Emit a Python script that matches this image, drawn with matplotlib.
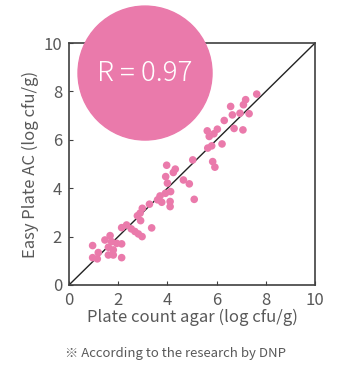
import matplotlib
matplotlib.use("Agg")
import matplotlib.pyplot as plt
from matplotlib.patches import Ellipse

plt.rcParams['font.family'] = ['Noto Sans CJK JP', 'DejaVu Sans']

# plate count agar (x) vs Easy Plate AC (y), log cfu/g
plate_count = [7.63, 7.18, 7.09, 6.57, 6.95, 7.32, 6.64, 6.31, 6.71, 7.07,
               5.62, 6.03, 5.89, 5.70, 6.22, 5.80, 5.64, 5.03, 5.84, 5.93,
               3.97, 4.32, 4.24, 3.93, 4.65, 4.89, 4.00, 4.13, 3.92, 3.70,
               3.60, 3.77, 4.11, 4.11, 5.09, 3.27, 2.98, 2.89, 2.78, 2.91,
               3.36, 2.34, 2.14, 2.53, 2.68, 2.82, 2.97, 1.67, 1.46, 1.73,
               1.94, 2.14, 0.96, 1.60, 1.80, 1.19, 1.60, 1.80, 0.96, 1.15,
               2.14]
easy_plate = [7.89, 7.66, 7.45, 7.38, 7.10, 7.08, 7.03, 6.80, 6.47, 6.41,
              6.37, 6.44, 6.25, 6.14, 5.83, 5.75, 5.66, 5.17, 5.10, 4.87,
              4.95, 4.79, 4.65, 4.48, 4.34, 4.18, 4.21, 3.86, 3.79, 3.68,
              3.52, 3.42, 3.45, 3.24, 3.54, 3.34, 3.17, 2.97, 2.86, 2.66,
              2.36, 2.48, 2.37, 2.32, 2.21, 2.11, 2.00, 2.04, 1.86, 1.79,
              1.72, 1.70, 1.63, 1.56, 1.45, 1.34, 1.24, 1.24, 1.13, 1.08,
              1.13]
ticks = [0, 2, 4, 6, 8, 10]
r_text = "R = 0.97"

pink = '#EA7AAB'
grey = '#595959'

fig = plt.figure(figsize=(3.51, 3.81), dpi=100)
ax = fig.add_axes([0.1966, 0.252, 0.7009, 0.635])

ax.plot([0, 10], [0, 10], color='#222222', lw=1.0, zorder=2)
ax.scatter(plate_count, easy_plate, s=30, color=pink, edgecolors='none', zorder=3)

ax.set_xlim(0, 10)
ax.set_ylim(0, 10)
ax.set_xticks(ticks)
ax.set_yticks(ticks)
ax.tick_params(direction='in', length=3, width=0.8, colors='#404040',
               labelcolor=grey, labelsize=12, pad=5)
for sp in ax.spines.values():
    sp.set_color('#404040')
    sp.set_linewidth(1.2)

ax.set_xlabel('Plate count agar (log cfu/g)', fontsize=12, color=grey, labelpad=0)
ax.set_ylabel('Easy Plate AC (log cfu/g)', fontsize=12, color=grey, labelpad=3)

# big circle with R value, drawn over the top spine
circ = Ellipse((3.09, 8.76), width=2 * 67 / 24.6, height=2 * 67 / 24.2,
               color=pink, clip_on=False, zorder=5)
ax.add_patch(circ)
ax.text(3.09, 8.78, r_text, color='white', fontsize=20, fontweight='light',
        ha='center', va='center', zorder=6)

fig.text(0.5, 0.073, '※ According to the research by DNP', fontsize=9.5, color=grey,
         ha='center', va='center')

fig.savefig('out.png', dpi=100)
